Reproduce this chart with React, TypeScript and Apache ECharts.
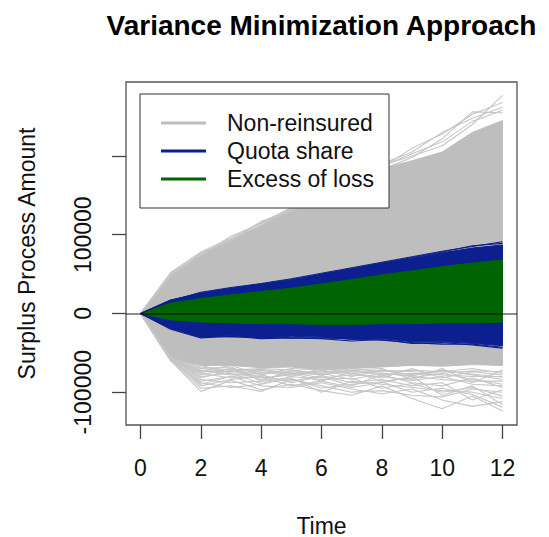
import React, { useEffect, useRef } from "react";
import * as echarts from "echarts";

const times = [0, 1, 2, 3, 4, 5, 6, 7, 8, 9, 10, 11, 12];

const nonReinsuredUpper = [0, 50000, 75000, 93000, 112000, 132000, 150000, 167000, 184000, 194000, 205000, 230000, 245000];
const nonReinsuredLower = [0, -58000, -66000, -66000, -69000, -68000, -72000, -70000, -68000, -66000, -67000, -65000, -66000];
const nonReinsuredPaths = [
  [0, 52000, 78000, 96000, 116000, 134000, 150000, 168000, 188000, 200000, 213000, 240000, 277000],
  [0, 50000, 74000, 98000, 114000, 131000, 152000, 170000, 185000, 210000, 228000, 253000, 268000],
  [0, 48000, 77000, 92000, 117000, 130000, 148000, 165000, 190000, 205000, 230000, 248000, 262000],
  [0, 51000, 75000, 95000, 112000, 135000, 151000, 172000, 183000, 198000, 222000, 256000, 255000],
  [0, 49000, 76000, 94000, 115000, 133000, 149000, 169000, 187000, 203000, 218000, 244000, 258000],
  [0, -60000, -99000, -85000, -97000, -90000, -98000, -104000, -92000, -108000, -121000, -105000, -124000],
  [0, -59000, -90000, -80000, -92000, -94000, -88000, -96000, -102000, -96000, -110000, -118000, -112000],
  [0, -58000, -84000, -88000, -86000, -83000, -95000, -90000, -87000, -100000, -95000, -103000, -119000],
  [0, -57000, -80000, -76000, -89000, -80000, -84000, -82000, -95000, -89000, -100000, -94000, -105000],
  [0, -60000, -76000, -82000, -80000, -86000, -79000, -88000, -84000, -92000, -88000, -110000, -97000],
  [0, -58000, -72000, -78000, -76000, -75000, -82000, -78000, -80000, -85000, -80000, -90000, -92000],
  [0, -59000, -95000, -92000, -99000, -84000, -92000, -100000, -98000, -104000, -106000, -96000, -100000],
  [0, -58000, -78000, -70000, -82000, -78000, -76000, -84000, -76000, -80000, -84000, -86000, -86000],
  [0, -57000, -70000, -74000, -72000, -78000, -74000, -73000, -78000, -76000, -78000, -80000, -80000],
  [0, -56000, -68000, -72000, -70000, -72000, -76000, -70000, -74000, -72000, -74000, -70000, -76000],
  [0, -58000, -74000, -66000, -78000, -70000, -72000, -80000, -72000, -78000, -72000, -78000, -84000],
  [0, -59000, -66000, -76000, -74000, -80000, -70000, -76000, -82000, -70000, -82000, -74000, -78000],
  [0, -57000, -82000, -72000, -84000, -76000, -86000, -74000, -86000, -82000, -76000, -84000, -90000],
  [0, -60000, -86000, -80000, -78000, -88000, -80000, -92000, -78000, -88000, -92000, -82000, -94000],
  [0, -58000, -88000, -94000, -90000, -82000, -100000, -86000, -90000, -94000, -98000, -100000, -108000],
  [0, -59000, -70000, -68000, -86000, -72000, -78000, -72000, -70000, -84000, -70000, -88000, -72000],
  [0, -57000, -92000, -84000, -80000, -92000, -86000, -94000, -88000, -80000, -104000, -92000, -116000],
  [0, -58000, -73000, -74000, -71000, -76000, -73000, -77000, -72000, -74000, -76000, -73000, -74000],
  [0, -59000, -75000, -70000, -75000, -74000, -78000, -72000, -76000, -79000, -73000, -77000, -81000],
];

const quotaUpper = [0, 17000, 26000, 32000, 37500, 43000, 50000, 57000, 64000, 70000, 77000, 83000, 87000];
const quotaLower = [0, -19000, -30000, -28000, -31000, -29000, -30000, -33000, -32000, -36000, -36000, -38000, -41000];
const quotaPaths = [
  [0, 16000, 27000, 33000, 38000, 44000, 51000, 58000, 65000, 72000, 79000, 85000, 91000],
  [0, 17000, 25000, 31000, 37000, 42000, 49000, 56000, 64000, 71000, 78000, 86000, 89000],
  [0, -20000, -31000, -29000, -32000, -31000, -32000, -35000, -33000, -38000, -37000, -40000, -44000],
  [0, -18000, -29000, -30000, -30000, -31000, -31000, -32000, -34000, -37000, -39000, -39000, -43000],
];

const xolUpper = [0, 13000, 19000, 23500, 28000, 32000, 37500, 43000, 49000, 54000, 59500, 64000, 68000];
const xolLower = [0, -8000, -11000, -12000, -13000, -13000, -14000, -14000, -13000, -13000, -12000, -12000, -11000];

const xTicks = [0, 2, 4, 6, 8, 10, 12];
const yTicks = [-100000, 0, 100000, 200000];
const yLabels = [-100000, 0, 100000];

const GRAY = "#BEBEBE";
const BLUE = "#0B1F8E";
const GREEN = "#006400";
const FONT = "'Liberation Sans', Arial, Helvetica, sans-serif";

function band(name: string, upper: number[], lower: number[], color: string) {
  return {
    type: "custom",
    name,
    silent: true,
    clip: true,
    itemStyle: { color },
    data: [[0, 0]],
    renderItem: (_params: any, api: any) => {
      const pts: number[][] = [];
      times.forEach((t, i) => pts.push(api.coord([t, upper[i]])));
      for (let i = times.length - 1; i >= 0; i--) pts.push(api.coord([times[i], lower[i]]));
      return {
        type: "polygon",
        shape: { points: pts },
        style: { fill: color, stroke: color, lineWidth: 1 },
      };
    },
  };
}

function pathLine(name: string, values: number[], color: string) {
  return {
    type: "line",
    name,
    silent: true,
    symbol: "none",
    data: times.map((t, i) => [t, values[i]]),
    lineStyle: { color, width: 1.1 },
    itemStyle: { color },
  };
}

export default function App() {
  const ref = useRef<HTMLDivElement>(null);
  useEffect(() => {
    if (!ref.current) return;
    const chart = echarts.init(ref.current, undefined, { renderer: "svg" });
    const series: any[] = [];
    series.push(band("Non-reinsured", nonReinsuredUpper, nonReinsuredLower, GRAY));
    nonReinsuredPaths.forEach((p, i) => series.push(pathLine("nr" + i, p, "#C6C6C6")));
    series.push(band("Quota share", quotaUpper, quotaLower, BLUE));
    quotaPaths.forEach((p, i) => series.push(pathLine("qs" + i, p, BLUE)));
    series.push(band("Excess of loss", xolUpper, xolLower, GREEN));
    series.push({
      type: "line",
      name: "zero",
      silent: true,
      data: [],
      markLine: {
        silent: true,
        symbol: "none",
        label: { show: false },
        lineStyle: { color: "rgba(0,0,0,0.6)", width: 1.6, type: "solid" },
        data: [{ yAxis: 0 }],
      },
    });

    chart.setOption({
      animation: false,
      backgroundColor: "#ffffff",
      textStyle: { fontFamily: FONT },
      title: {
        text: "Variance Minimization Approach",
        left: 321.5,
        top: 11,
        padding: 0,
        textAlign: "center",
        textStyle: { fontFamily: FONT, fontSize: 28, fontWeight: "bold", color: "#000" },
      },
      legend: {
        orient: "vertical",
        left: 140,
        top: 94,
        padding: [15, 15, 15, 21],
        backgroundColor: "#ffffff",
        borderColor: "#333",
        borderWidth: 1,
        borderRadius: 0,
        itemWidth: 45,
        itemHeight: 3,
        itemGap: 0,
        selectedMode: false,
        textStyle: { fontFamily: FONT, fontSize: 23, color: "#111", lineHeight: 28, padding: [0, 0, 0, 16] },
        data: [
          { name: "Non-reinsured", icon: "rect", itemStyle: { color: GRAY } },
          { name: "Quota share", icon: "rect", itemStyle: { color: BLUE } },
          { name: "Excess of loss", icon: "rect", itemStyle: { color: GREEN } },
        ],
      },
      grid: {
        left: 126,
        right: 32,
        top: 82,
        bottom: 112,
        show: true,
        containLabel: false,
        outerBoundsMode: "none",
        borderColor: "#555",
        borderWidth: 1.3,
        backgroundColor: "transparent",
      },
      xAxis: {
        type: "value",
        position: "bottom",
        min: -0.48,
        max: 12.48,
        name: "Time",
        nameLocation: "middle",
        nameGap: 89,
        nameTextStyle: { fontFamily: FONT, fontSize: 23, color: "#111" },
        axisLine: { show: false, onZero: false },
        splitLine: { show: false },
        axisTick: { show: true, length: 14, customValues: xTicks, lineStyle: { color: "#444", width: 1.3 } },
        axisLabel: { customValues: xTicks, margin: 31, fontFamily: FONT, fontSize: 23, color: "#111", formatter: (v: number) => String(v) },
      },
      yAxis: {
        type: "value",
        position: "left",
        min: -141700,
        max: 294000,
        name: "Surplus Process Amount",
        nameLocation: "middle",
        nameGap: 88,
        nameRotate: 90,
        nameTextStyle: { fontFamily: FONT, fontSize: 23, color: "#111" },
        axisLine: { show: false, onZero: false },
        splitLine: { show: false },
        axisTick: { show: true, length: 14, customValues: yTicks, lineStyle: { color: "#444", width: 1.3 } },
        axisLabel: { customValues: yLabels, rotate: 90, margin: 32, fontFamily: FONT, fontSize: 23, color: "#111", formatter: (v: number) => String(v) },
      },
      series,
    });
    return () => chart.dispose();
  }, []);
  return <div ref={ref} style={{ position: "fixed", left: 0, top: 0, width: 549, height: 537 }} />;
}
